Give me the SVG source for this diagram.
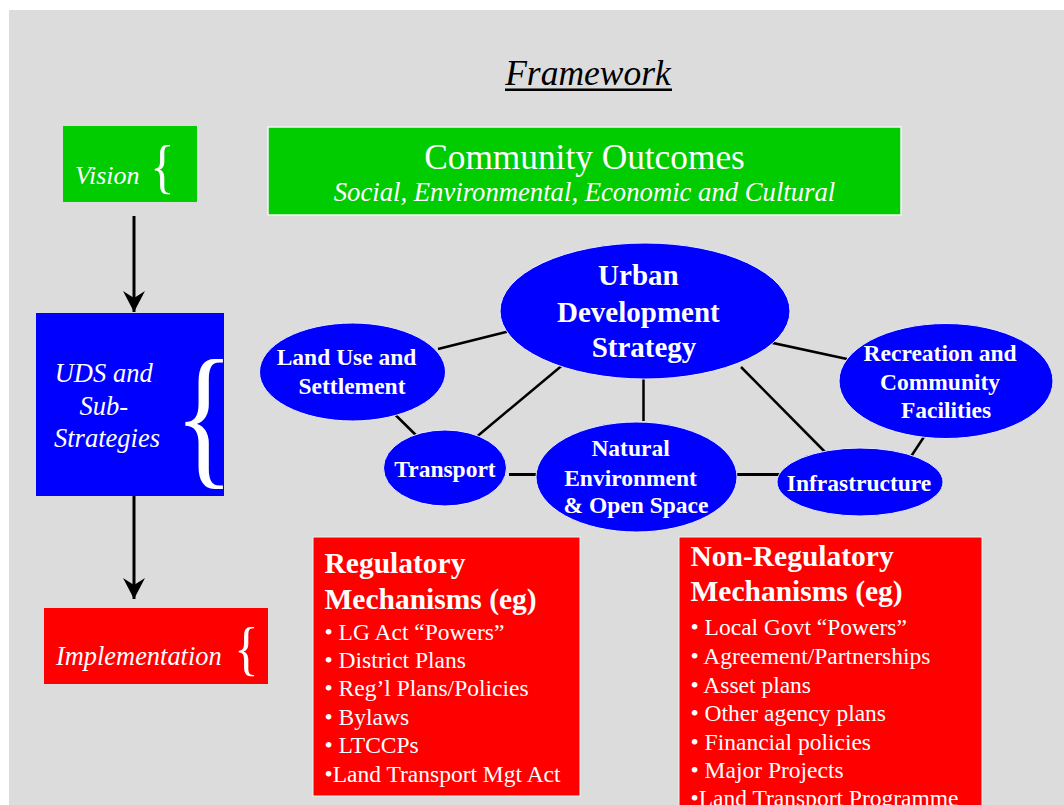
<svg xmlns="http://www.w3.org/2000/svg" width="1064" height="805" viewBox="0 0 1064 805">
  <style>
    .serif { font-family: "Liberation Serif", "Times New Roman", serif; fill: #ffffff; }
    .it { font-style: italic; }
    .bold { font-weight: bold; }
    .mid { text-anchor: middle; }
    .node-ell { fill: #0000ff; stroke: #e8e8ff; stroke-width: 1; }
    .link { stroke: #000000; stroke-width: 2.5; fill: none; }
    .flow { stroke: #000000; stroke-width: 3; fill: none; }
    .brace { font-family: "Liberation Serif", "Times New Roman", serif; fill: #ffffff; }
    .item { font-size: 23.5px; }
    .head { font-size: 29.5px; font-weight: bold; }
  </style>
  <defs>
    <marker id="stealth" markerUnits="userSpaceOnUse" markerWidth="24" markerHeight="24" viewBox="-22 -12 24 24" refX="0" refY="0" orient="auto">
      <path d="M0,0 L-21,-11 L-14,0 L-21,11 Z" fill="#000000"/>
    </marker>
  </defs>

  <!-- page -->
  <rect x="0" y="0" width="1064" height="805" fill="#ffffff"/>
  <rect x="9" y="10" width="1055" height="795" fill="#dcdcdc"/>

  <!-- title -->
  <g id="title">
    <text x="588" y="85" class="it mid" style="font-family: 'Liberation Serif', 'Times New Roman', serif; font-size: 35.5px; fill: #000000;">Framework</text>
    <rect x="505" y="88.5" width="167" height="2.5" fill="#000000"/>
  </g>

  <!-- connectors -->
  <g id="connectors">
    <line class="flow" x1="134" y1="216" x2="134" y2="312" marker-end="url(#stealth)"/>
    <line class="flow" x1="134" y1="496" x2="134" y2="599" marker-end="url(#stealth)"/>
    <line class="link" x1="438" y1="349" x2="508" y2="331.5"/>
    <line class="link" x1="571" y1="358" x2="474" y2="439"/>
    <line class="link" x1="643.5" y1="377" x2="643.5" y2="421"/>
    <line class="link" x1="759" y1="340" x2="847" y2="359"/>
    <line class="link" x1="741" y1="367" x2="830" y2="457"/>
    <line class="link" x1="393" y1="412.5" x2="428.5" y2="447.5"/>
    <line class="link" x1="509" y1="474.5" x2="545" y2="474.5" style="stroke-width:3"/>
    <line class="link" x1="733" y1="474.5" x2="786" y2="474.5" style="stroke-width:3"/>
    <line class="link" x1="928.5" y1="430" x2="911" y2="456.5"/>
  </g>

  <!-- left column -->
  <g id="vision">
    <rect x="63" y="126" width="134" height="76" fill="#00cc00"/>
    <text x="75" y="184" class="serif it" style="font-size:26px">Vision</text>
    <text class="brace" style="font-size:56px" transform="translate(150,186) scale(0.92,1.05)">{</text>
  </g>

  <g id="uds">
    <rect x="36" y="313" width="188" height="183" fill="#0000ff"/>
    <text class="serif it mid" style="font-size:26.5px">
      <tspan x="107" y="382">UDS and</tspan>
      <tspan x="107" y="415">Sub-</tspan>
      <tspan x="107" y="447">Strategies</tspan>
    </text>
    <text class="brace" style="font-size:157px" transform="translate(174,468) scale(0.8,1)">{</text>
  </g>

  <g id="implementation">
    <rect x="44" y="608" width="224" height="76" fill="#ff0000"/>
    <text x="56" y="665" class="serif it" style="font-size:26.4px">Implementation</text>
    <text class="brace" style="font-size:56px" transform="translate(234,668) scale(0.92,1.05)">{</text>
  </g>

  <!-- community outcomes -->
  <g id="community-outcomes">
    <rect x="268" y="127" width="633" height="88" fill="#00cc00" stroke="#f2f2f2" stroke-width="1.5"/>
    <text x="584.5" y="168.5" class="serif mid" style="font-size:35.3px">Community Outcomes</text>
    <text x="584.5" y="201" class="serif it mid" style="font-size:26.7px">Social, Environmental, Economic and Cultural</text>
  </g>

  <!-- strategy cluster -->
  <g id="uds-core">
    <ellipse cx="645" cy="311" rx="145" ry="68" class="node-ell"/>
    <text class="serif bold mid" style="font-size:29px">
      <tspan x="642" y="285">Urban</tspan>
      <tspan x="642" y="321.5">Development</tspan>
      <tspan x="644" y="356.5">Strategy</tspan>
    </text>
  </g>

  <g id="land-use">
    <ellipse cx="352.5" cy="372" rx="93" ry="49" class="node-ell"/>
    <text class="serif bold mid" style="font-size:23.5px">
      <tspan x="349.5" y="365">Land Use and</tspan>
      <tspan x="352" y="394">Settlement</tspan>
    </text>
  </g>

  <g id="transport">
    <ellipse cx="445" cy="468" rx="61.5" ry="38" class="node-ell"/>
    <text x="445" y="476.5" class="serif bold mid" style="font-size:23.5px">Transport</text>
  </g>

  <g id="natural-environment">
    <ellipse cx="636.5" cy="477" rx="100.5" ry="55" class="node-ell"/>
    <text class="serif bold mid" style="font-size:23.5px">
      <tspan x="633.5" y="456">Natural</tspan>
      <tspan x="633.5" y="485.5">Environment</tspan>
      <tspan x="636" y="513">&amp; Open Space</tspan>
    </text>
  </g>

  <g id="infrastructure">
    <ellipse cx="860" cy="482" rx="83" ry="34" class="node-ell"/>
    <text x="859" y="490.5" class="serif bold mid" style="font-size:23.5px">Infrastructure</text>
  </g>

  <g id="recreation">
    <ellipse cx="946" cy="381" rx="107" ry="57.5" class="node-ell"/>
    <text class="serif bold mid" style="font-size:23.5px">
      <tspan x="943" y="360.5">Recreation and</tspan>
      <tspan x="943" y="390">Community</tspan>
      <tspan x="946" y="417.5">Facilities</tspan>
    </text>
  </g>

  <!-- mechanisms -->
  <g id="regulatory">
    <rect x="313" y="537" width="267" height="259" fill="#ff0000" stroke="#f2f2f2" stroke-width="1"/>
    <text class="serif head">
      <tspan x="324.5" y="572.5">Regulatory</tspan>
      <tspan x="324.5" y="608.5">Mechanisms (eg)</tspan>
    </text>
    <text class="serif item">
      <tspan x="324.5" y="639.5">• LG Act “Powers”</tspan>
      <tspan x="324.5" y="667.5">• District Plans</tspan>
      <tspan x="324.5" y="696">• Reg’l Plans/Policies</tspan>
      <tspan x="324.5" y="724.5">• Bylaws</tspan>
      <tspan x="324.5" y="753">• LTCCPs</tspan>
      <tspan x="324.5" y="782">•Land Transport Mgt Act</tspan>
    </text>
  </g>

  <g id="non-regulatory">
    <rect x="679" y="537" width="303" height="280" fill="#ff0000" stroke="#f2f2f2" stroke-width="1"/>
    <text class="serif head">
      <tspan x="690.5" y="566">Non-Regulatory</tspan>
      <tspan x="690.5" y="601">Mechanisms (eg)</tspan>
    </text>
    <text class="serif item">
      <tspan x="690.5" y="634.5">•  Local Govt “Powers”</tspan>
      <tspan x="690.5" y="663.5">• Agreement/Partnerships</tspan>
      <tspan x="690.5" y="692.5">• Asset plans</tspan>
      <tspan x="690.5" y="721">• Other agency plans</tspan>
      <tspan x="690.5" y="749.5">• Financial policies</tspan>
      <tspan x="690.5" y="778">• Major Projects</tspan>
      <tspan x="690.5" y="806">•Land Transport Programme</tspan>
    </text>
  </g>
</svg>
